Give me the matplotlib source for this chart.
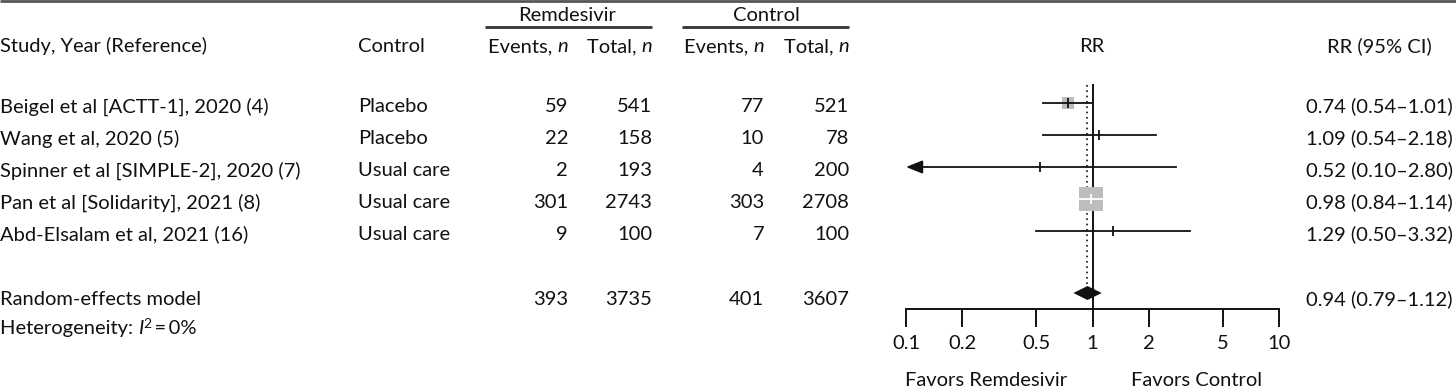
import matplotlib
matplotlib.use("Agg")
import matplotlib.pyplot as plt
import numpy as np

plt.rcParams['font.family'] = ['Lato', 'DejaVu Sans']

# ---------------- data ----------------
studies = ["Beigel et al [ACTT-1], 2020 (4)", "Wang et al, 2020 (5)",
           "Spinner et al [SIMPLE-2], 2020 (7)", "Pan et al [Solidarity], 2021 (8)",
           "Abd-Elsalam et al, 2021 (16)"]
controls = ["Placebo", "Placebo", "Usual care", "Usual care", "Usual care"]
rem_events = [59, 22, 2, 301, 9]
rem_total = [541, 158, 193, 2743, 100]
ctl_events = [77, 10, 4, 303, 7]
ctl_total = [521, 78, 200, 2708, 100]
rr = [0.74, 1.09, 0.52, 0.98, 1.29]
rr_lo = [0.54, 0.54, 0.10, 0.84, 0.50]
rr_hi = [1.01, 2.18, 2.80, 1.14, 3.32]
weights = [11.5, 2.0, 0.5, 24.0, 1.5]   # square side (relative)
pooled = [0.94, 0.79, 1.12]
pooled_counts = [393, 3735, 401, 3607]
xticks = [0.1, 0.2, 0.5, 1, 2, 5, 10]
xticklabels = ["0.1", "0.2", "0.5", "1", "2", "5", "10"]

W, H = 1456, 391
fig = plt.figure(figsize=(W / 100, H / 100), dpi=100)

bg = fig.add_axes([0, 0, 1, 1])
bg.set_xlim(0, W)
bg.set_ylim(H, 0)
bg.axis('off')

FS = 14.5
INK = '#111111'
renderer = fig.canvas.get_renderer()


def rich(x, y, parts, ha='left', size=FS):
    objs, widths = [], []
    for s, kw in parts:
        t = bg.text(0, y + kw.get('dy', 0), s, fontsize=kw.get('size', size),
                    va='baseline', ha='left', style=kw.get('style', 'normal'),
                    color=INK)
        objs.append(t)
        widths.append(t.get_window_extent(renderer).width)
    total = sum(widths)
    x0 = x - total if ha == 'right' else (x - total / 2 if ha == 'center' else x)
    for t, w in zip(objs, widths):
        t.set_x(x0)
        x0 += w


def txt(x, y, s, ha='left', size=FS):
    bg.text(x, y, s, fontsize=size, ha=ha, va='baseline', color=INK)


# thin rule along the top edge (as in the reference crop)
bg.plot([0, W], [1, 1], color='#555555', lw=2, solid_capstyle='butt')

# column right edges
c_re, c_rt, c_ce, c_ct = 568, 652, 764, 849
c_ctl = 358
c_rrci = 1379
BL = 9.5   # baseline offset below row centre

# headers
txt(567, 21, "Remdesivir", ha='center')
txt(766, 21, "Control", ha='center')
bg.plot([485, 652], [27, 27], color='#333333', lw=2, solid_capstyle='butt')
bg.plot([682, 849], [27, 27], color='#333333', lw=2, solid_capstyle='butt')
header_b = 52
txt(0, header_b, "Study, Year (Reference)")
txt(c_ctl, header_b, "Control")
it = {'style': 'italic'}
rich(c_re, header_b, [("Events, ", {}), ("n", it)], ha='right')
rich(c_rt, header_b, [("Total, ", {}), ("n", it)], ha='right')
rich(c_ce, header_b, [("Events, ", {}), ("n", it)], ha='right')
rich(c_ct, header_b, [("Total, ", {}), ("n", it)], ha='right')
txt(1092, header_b, "RR", ha='center')
txt(c_rrci, header_b, "RR (95% CI)", ha='center')

row_px = [103 + 32 * i for i in range(len(studies))]
for i, y in enumerate(row_px):
    b = y + BL
    txt(0, b, studies[i])
    txt(c_ctl, b, controls[i])
    txt(c_re, b, str(rem_events[i]), ha='right')
    txt(c_rt, b, str(rem_total[i]), ha='right')
    txt(c_ce, b, str(ctl_events[i]), ha='right')
    txt(c_ct, b, str(ctl_total[i]), ha='right')
    txt(c_rrci, b, f"{rr[i]:.2f} ({rr_lo[i]:.2f}\u2013{rr_hi[i]:.2f})", ha='center')

sum_y = 293
sum_b = 305
txt(0, sum_b, "Random-effects model")
for xr, v in zip([c_re, c_rt, c_ce, c_ct], pooled_counts):
    txt(xr, sum_b, str(v), ha='right')
txt(c_rrci, sum_b, f"{pooled[0]:.2f} ({pooled[1]:.2f}\u2013{pooled[2]:.2f})",
    ha='center')
rich(0, 334, [("Heterogeneity: ", {}), ("I", it), ("2", {'size': 10, 'dy': -6}),
              ("\u2009=\u20090%", {})])

txt(986, 386, "Favors Remdesivir", ha='center')
txt(1197, 386, "Favors Control", ha='center')

# ---------------- forest axes ----------------
x0p, x1p = 906, 1279
top_p, bot_p = 80, 309
ax = fig.add_axes([x0p / W, 1 - bot_p / H, (x1p - x0p) / W, (bot_p - top_p) / H])
ax.set_xscale('log')
ax.set_xlim(0.1, 10)
ax.set_ylim(bot_p, top_p)
ax.patch.set_alpha(0)
for s in ['top', 'right', 'left']:
    ax.spines[s].set_visible(False)
ax.spines['bottom'].set_linewidth(1.4)
ax.spines['bottom'].set_color(INK)
ax.set_yticks([])
ax.set_xticks(xticks)
ax.set_xticklabels(xticklabels, fontsize=FS, color=INK)
ax.xaxis.set_minor_locator(matplotlib.ticker.NullLocator())
ax.tick_params(axis='x', direction='out', length=13, width=1.4, pad=6, color=INK)

ax.plot([1, 1], [85, bot_p], color=INK, lw=1.4, zorder=1)
ax.plot([pooled[0], pooled[0]], [85, 290], color=INK, lw=1.2,
        ls=(0, (1, 2.2)), zorder=1)

grey = '#bdbdbd'
for i, y in enumerate(row_px):
    side = weights[i]
    if side > 3:
        ax.plot([rr[i]], [y], marker='s', ms=side * 0.72, color=grey, mew=0, zorder=2)
    line_col = 'white' if side > 20 else INK
    if rr_lo[i] > 0.1:
        ax.plot([rr_lo[i], rr_hi[i]], [y, y], color=line_col, lw=1.3, zorder=3)
    else:
        ax.plot([rr_lo[i] * 1.05, rr_hi[i]], [y, y], color=line_col, lw=1.3, zorder=3)
        ax.annotate("", xy=(rr_lo[i], y), xytext=(rr_lo[i] * 1.2, y),
                    arrowprops=dict(arrowstyle='-|>,head_length=1.0,head_width=0.4',
                                    color=INK, lw=1.3, shrinkA=0, shrinkB=0),
                    annotation_clip=False, zorder=3)
    ax.plot([rr[i]], [y], marker='|', ms=7, mew=1.3, color=line_col, zorder=4)

d_h = 7
ax.fill([pooled[1], pooled[0], pooled[2], pooled[0]],
        [sum_y, sum_y - d_h, sum_y, sum_y + d_h], color=INK, zorder=5, lw=0)

fig.savefig("out.png", dpi=100)
